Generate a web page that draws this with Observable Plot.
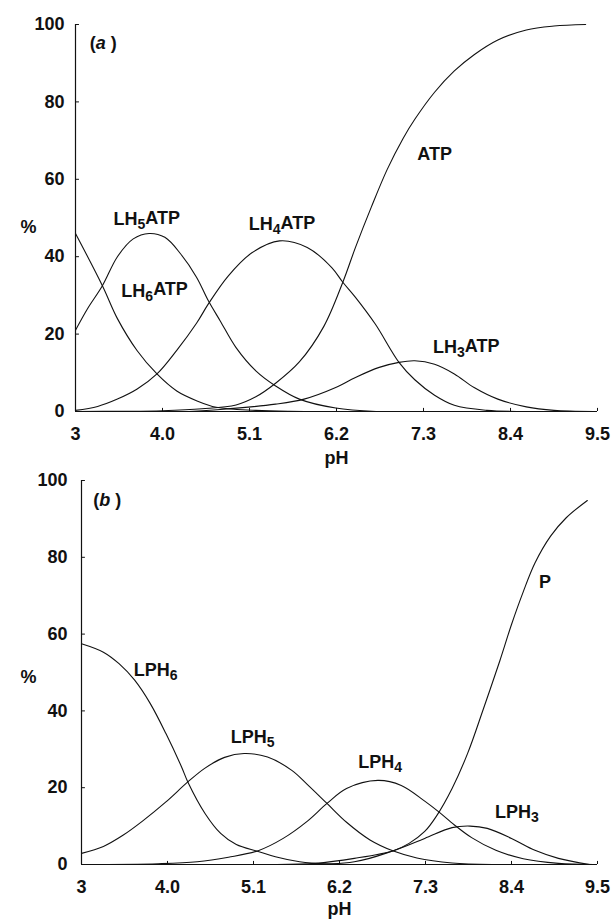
<!DOCTYPE html>
<html><head><meta charset="utf-8">
<script src="https://cdn.jsdelivr.net/npm/d3@7"></script>
<script src="https://cdn.jsdelivr.net/npm/@observablehq/plot@0.6"></script>
<style>body{margin:0;background:#fff}#c{width:616px}svg{display:block}</style>
</head><body><div id="c"></div>
<script>
// ---- axes ----
const xTicks = [2.9, 4.0, 5.1, 6.2, 7.3, 8.4, 9.5];
const xTickLabels = ["3", "4.0", "5.1", "6.2", "7.3", "8.4", "9.5"];
const yTicks = [0, 20, 40, 60, 80, 100];

// ---- panel (a) ----
const lh6atpPH  = [2.9, 3.24, 3.43, 3.68, 3.93, 4.18, 4.43, 4.68, 5.18, 5.6, 6.2];
const lh6atpPct = [46, 32.5, 24, 15.7, 9.7, 5.3, 2.8, 1.1, 0.3, 0.05, 0];
const lh5atpPH  = [2.9, 3.05, 3.24, 3.43, 3.63, 3.83, 4.03, 4.23, 4.43, 4.58, 4.73, 4.93, 5.18, 5.43, 5.73, 6.19, 6.7];
const lh5atpPct = [21, 26.5, 32.5, 40, 44.6, 46, 45, 40.7, 34.7, 28.6, 23.4, 16.5, 10.5, 6.6, 3.2, 0.9, 0];
const lh4atpPH  = [2.9, 3.18, 3.43, 3.68, 3.93, 4.18, 4.43, 4.58, 4.83, 5.13, 5.48, 5.83, 6.14, 6.28, 6.44, 6.69, 6.99, 7.19, 7.44, 7.69, 8.1, 8.6];
const lh4atpPct = [0.3, 1.3, 3.2, 5.8, 9.7, 15.8, 22.8, 27.8, 35, 41, 44.1, 42.4, 37.2, 33.4, 29.5, 22.6, 12.7, 8.2, 4.2, 1.6, 0.3, 0];
const atpPH     = [2.9, 3.5, 4.0, 4.5, 4.93, 5.18, 5.43, 5.73, 6.04, 6.28, 6.44, 6.64, 6.84, 7.04, 7.19, 7.44, 7.69, 7.94, 8.24, 8.6, 8.95, 9.35];
const atpPct    = [0, 0.05, 0.2, 0.7, 1.7, 3.8, 7.3, 12.8, 22, 33.4, 42.4, 52.8, 62.5, 70.5, 75.5, 82.5, 88, 92.2, 96, 98.6, 99.6, 100];
const lh3atpPH  = [4.33, 4.73, 5.43, 5.79, 6.19, 6.44, 6.74, 6.99, 7.19, 7.44, 7.69, 7.94, 8.24, 8.6, 8.95, 9.45];
const lh3atpPct = [0, 0.5, 1.9, 3.2, 6.2, 8.8, 11.4, 12.7, 13.1, 12.2, 9.7, 6.2, 3.2, 1.2, 0.3, 0];
const labelsA    = ["ATP", "LH_5ATP", "LH_4ATP", "LH_6ATP", "LH_3ATP"];
const labelsAPH  = [7.44, 3.8, 5.51, 3.9, 7.84];
const labelsAPct = [66.5, 49.7, 48.4, 31.2, 16.6];

// ---- panel (b) ----
const lph6PH  = [2.9, 3.18, 3.38, 3.58, 3.78, 3.98, 4.18, 4.26, 4.48, 4.68, 4.88, 5.16, 5.38, 5.69, 6.04, 6.5];
const lph6Pct = [57.5, 55.3, 52.3, 48, 41.9, 34.1, 25.4, 21.5, 13.3, 8.1, 5.2, 3.4, 2, 0.7, 0.1, 0];
const lph5PH  = [2.9, 3.18, 3.43, 3.68, 3.98, 4.26, 4.48, 4.73, 4.98, 5.28, 5.59, 5.79, 6.04, 6.29, 6.59, 6.89, 7.19, 7.64, 8.15];
const lph5Pct = [2.9, 4.7, 7.6, 11.3, 16.3, 21.5, 25.1, 27.9, 28.9, 28, 24.5, 20.8, 15.9, 11, 6.4, 3.5, 1.7, 0.4, 0];
const lph4PH  = [2.9, 3.88, 4.38, 4.78, 5.16, 5.48, 5.79, 6.04, 6.29, 6.69, 6.99, 7.29, 7.47, 7.67, 7.89, 8.2, 8.55, 9.0, 9.45];
const lph4Pct = [0, 0.2, 0.7, 1.9, 3.6, 6.8, 11.3, 15.9, 19.8, 21.9, 20.6, 16.5, 13.7, 10.3, 7.0, 3.7, 1.5, 0.3, 0];
const pPH     = [5.4, 5.89, 6.39, 6.89, 7.09, 7.29, 7.44, 7.64, 7.84, 8.04, 8.25, 8.4, 8.55, 8.7, 8.9, 9.1, 9.37];
const pPct    = [0, 0.3, 1.6, 3.6, 5.5, 8.6, 12.6, 19.8, 29, 40.5, 53, 62.5, 71, 78.5, 85.5, 90.3, 94.8];
const lph3PH  = [5.5, 6.39, 6.89, 7.29, 7.64, 7.87, 8.09, 8.4, 8.7, 9.0, 9.4];
const lph3Pct = [0, 0.7, 3.6, 6.8, 9.6, 10, 9.4, 6.8, 3.7, 1.6, 0];
const labelsB    = ["P", "LPH_6", "LPH_5", "LPH_4", "LPH_3"];
const labelsBPH  = [8.83, 3.85, 5.09, 6.72, 8.47];
const labelsBPct = [73.5, 50.6, 33.2, 26.7, 13.7];

const tickLabel = new Map(xTicks.map((t, i) => [t, xTickLabels[i]]));
const zip = (xs, ys) => xs.map((x, i) => ({pH: x, pct: ys[i]}));

function panel({series, labels, lPH, lPct, tag, tagPH, tagPct, h, mL, mT, mB, pctDx, pctY, yPad, pHdy}) {
  const lines = series.map(([xs, ys]) => Plot.line(zip(xs, ys), {x: "pH", y: "pct", curve: "catmull-rom", stroke: "#111", strokeWidth: 1.1}));
  const lab = labels.map((t, i) => ({t, pH: lPH[i], pct: lPct[i]}));
  return Plot.plot({
    width: 616, height: h,
    marginLeft: mL, marginRight: 19, marginTop: mT, marginBottom: mB,
    style: {fontFamily: "'Liberation Sans', Arial, sans-serif", fontSize: "18px", fontWeight: "bold", color: "#111", background: "#fff", overflow: "visible"},
    x: {domain: [2.9, 9.5]},
    y: {domain: [0, 100]},
    marks: [
      Plot.axisX({ticks: xTicks, tickFormat: d => tickLabel.get(d), tickSize: 0, tickPadding: 16, label: null}),
      Plot.axisY({ticks: yTicks, tickSize: 0, tickPadding: yPad, label: null}),
      Plot.ruleX([2.9], {y1: 0, y2: 100, stroke: "#111", strokeWidth: 1.2}),
      Plot.ruleY([0], {stroke: "#111", strokeWidth: 1.2}),
      Plot.ruleY(yTicks, {x1: 2.9, x2: 2.95, stroke: "#111"}),
      Plot.ruleX(xTicks, {y1: 0, y2: 0.8, stroke: "#111"}),
      ...lines,
      Plot.text(lab, {x: "pH", y: "pct", text: "t", fill: "#111"}),
      Plot.text([tag], {x: tagPH, y: tagPct, text: d => d, textAnchor: "start", fill: "#111"}),
      Plot.text(["%"], {frameAnchor: "left", y: pctY, dx: pctDx, fill: "#111"}),
      Plot.text(["pH"], {frameAnchor: "bottom", lineAnchor: "middle", dy: pHdy, fill: "#111"})
    ]
  });
}

function fixText(svg) {
  d3.select(svg).selectAll("text").each(function () {
    const t = this.textContent;
    const m = t.match(/^(.*)_(\d)(.*)$/);
    if (m && this.children.length === 0) {
      const el = d3.select(this);
      el.text(null);
      el.append("tspan").text(m[1]);
      el.append("tspan").attr("dy", "0.3em").attr("font-size", "0.78em").text(m[2]);
      if (m[3]) el.append("tspan").attr("dy", "-0.3em").text(m[3]);
      return;
    }
    const g = t.match(/^\((\w) \)$/);
    if (g && this.children.length === 0) {
      const el = d3.select(this);
      el.text(null);
      el.append("tspan").text("(");
      el.append("tspan").attr("font-style", "italic").text(g[1]);
      el.append("tspan").text(" )");
    }
  });
  return svg;
}

const a = panel({
  series: [[lh6atpPH, lh6atpPct], [lh5atpPH, lh5atpPct], [lh4atpPH, lh4atpPct], [atpPH, atpPct], [lh3atpPH, lh3atpPct]],
  labels: labelsA, lPH: labelsAPH, lPct: labelsAPct,
  tag: "(a )", tagPH: 3.08, tagPct: 95.1,
  h: 470, mL: 75, mT: 24, mB: 59, pctDx: -55, pctY: 47.5, yPad: 11, pHdy: 47
});
const b = panel({
  series: [[lph6PH, lph6Pct], [lph5PH, lph5Pct], [lph4PH, lph4Pct], [pPH, pPct], [lph3PH, lph3Pct]],
  labels: labelsB, lPH: labelsBPH, lPct: labelsBPct,
  tag: "(b )", tagPH: 3.05, tagPct: 94.8,
  h: 451, mL: 81, mT: 10, mB: 57, pctDx: -61, pctY: 48.7, yPad: 14, pHdy: 45
});
document.getElementById("c").append(fixText(a), fixText(b));
</script></body></html>
